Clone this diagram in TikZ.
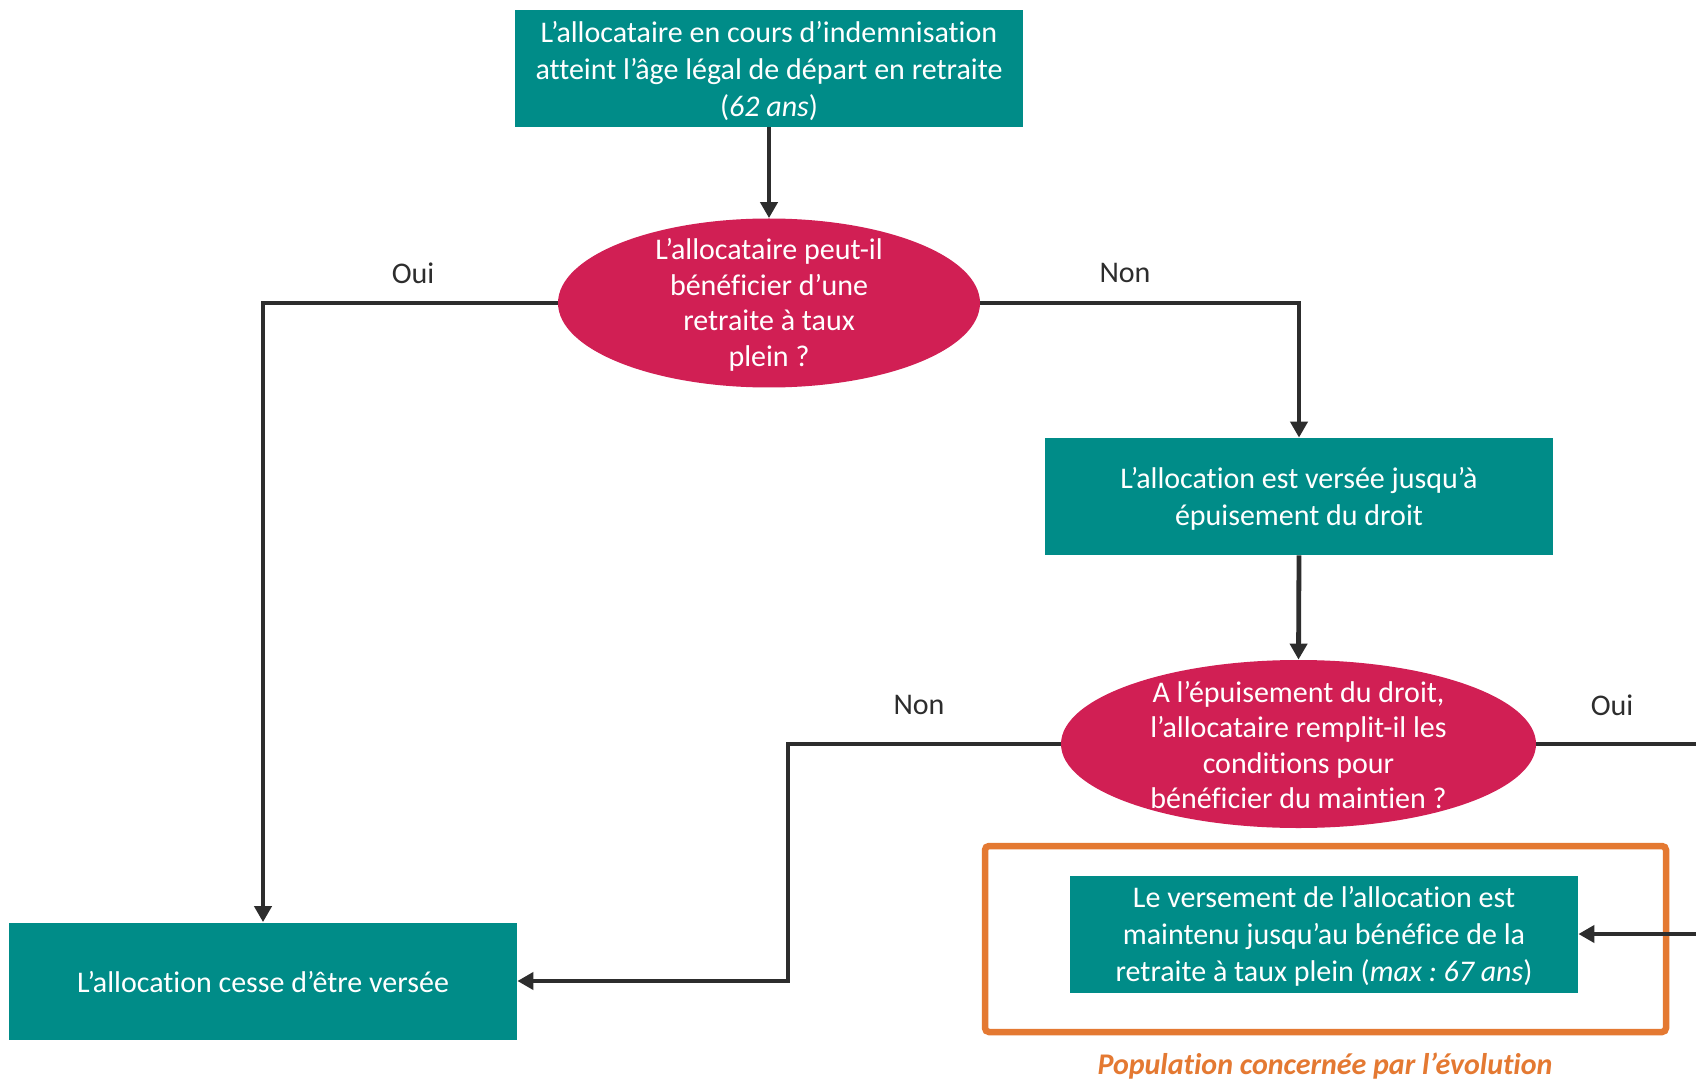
\documentclass[tikz,border=0pt]{standalone}
\usepackage{fontspec}
\setmainfont[Ligatures={NoCommon}]{Carlito}
\frenchspacing
\usetikzlibrary{arrows.meta,shapes.geometric}
\definecolor{tealc}{RGB}{0,140,136}
\definecolor{crim}{RGB}{209,31,84}
\definecolor{orng}{RGB}{228,121,50}
\definecolor{dgray}{RGB}{45,45,45}
\begin{document}
\begin{tikzpicture}[x=0.5pt,y=-0.5pt,
  txt/.style={font=\fontsize{15}{18.5}\selectfont},
  box/.style={txt, fill=tealc, text=white, minimum width=254pt, minimum height=58.5pt, inner sep=0pt, align=center},
  ell/.style={ellipse, fill=crim, inner sep=0pt},
  etxt/.style={txt, text=white, align=center, inner sep=0pt},
  eqtxt/.style={font=\fontsize{15}{17.8}\selectfont, text=white, align=center, inner sep=0pt},
  lbl/.style={txt, text=dgray, inner sep=0pt},
  conn/.style={draw=dgray, line width=2.4pt, -{Triangle[length=8pt,width=8.5pt]}},
  frame/.style={draw=orng, line width=3.25pt, rounded corners=2pt, minimum width=340.5pt, minimum height=93pt, inner sep=0pt}
]
\clip (0,0) rectangle (1696,1080);
\fill[white] (0,0) rectangle (1696,1080);

\node[box] (top) at (769,68.5) {};
\node[etxt] (topt) at (769,71) {L’allocataire en cours d’indemnisation\\atteint l’âge légal de départ en retraite\\(\textit{62 ans})};
\node[ell, minimum width=211pt, minimum height=84.5pt] (e1) at (769,303) {};
\node[eqtxt] (e1t) at (769,305) {L’allocataire peut-il\\bénéficier d’une\\retraite à taux\\plein ?};
\node[box] (b2) at (1299,496.5) {};
\node[etxt] (b2t) at (1299,499) {L’allocation est versée jusqu’à\\épuisement du droit};
\node[ell, minimum width=237.5pt, minimum height=84pt] (e2) at (1298.5,744) {};
\node[eqtxt] (e2t) at (1298.5,745) {A l’épuisement du droit,\\l’allocataire remplit-il les\\conditions pour\\bénéficier du maintien ?};
\node[box] (bl) at (263,981) {};
\node[etxt] (blt) at (263,982) {L’allocation cesse d’être versée};
\node[frame] (fr) at (1325.5,939) {};
\node[box] (br) at (1324,934) {};
\node[etxt] (brt) at (1324,936) {Le versement de l’allocation est\\maintenu jusqu’au bénéfice de la\\retraite à taux plein (\textit{max : 67 ans})};
\node[txt, text=orng, inner sep=0pt] (cap) at (1325,1066) {\bfseries\itshape Population concernée par l’évolution};

\node[lbl] (l1) at (413,273) {Oui};
\node[lbl] (l2) at (1125,273) {Non};
\node[lbl] (l3) at (919,705) {Non};
\node[lbl] (l4) at (1612,705) {Oui};

\coordinate (c1) at (788,744);
\coordinate (c2) at (1730,744);
\coordinate (c3) at (1730,934);

\draw[conn] (top.south) -- (e1.north);
\draw[conn] (e1.west) -| (bl.north);
\draw[conn] (e1.east) -| (b2.north);
\draw[conn] (b2.south) -- (e2.north);
\draw[conn] (e2.west) -- (c1) |- (bl.east);
\draw[conn] (e2.east) -- (c2) -- (c3) -- (br.east);
\end{tikzpicture}
\end{document}
